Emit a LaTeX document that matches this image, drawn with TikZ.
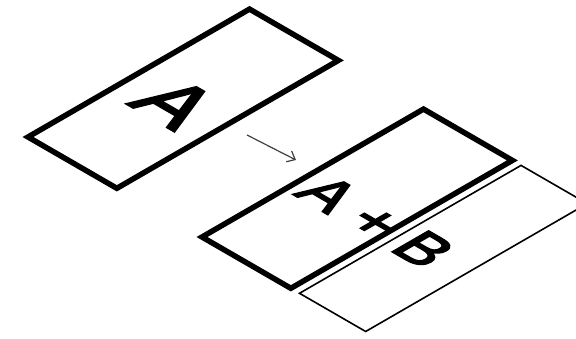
\documentclass[tikz,border=0pt]{standalone}
\usepackage{fontspec}
\setsansfont{Liberation Sans}
\newfontfamily\sheetfont[FakeBold=3]{Liberation Sans}
\usetikzlibrary{arrows.meta}

\begin{document}
\begin{tikzpicture}[x=1pt, y=1pt, >={Straight Barb[length=7pt, width=12pt]},
    isoplane/.style={cm={0.866,-0.5,0.866,0.5,(0,0)}},
    letter/.style={transform shape, inner sep=0pt, anchor=base}]
    \useasboundingbox (0,0) rectangle (576,338);
    \clip (0,0) rectangle (576,338);

    % Sheet A
    \begin{scope}[shift={(28,201)}, isoplane]
        \draw[line width=5.5pt] (0,0) rectangle (102.6,255.8);
        \node[letter, font=\sheetfont\fontsize{83}{83}\selectfont] (labelA) at (51.3,90) {A};
    \end{scope}

    % Arrow
    \coordinate (arrowtail) at (247,203);
    \coordinate (arrowtip) at (296,178);
    \draw[->, line width=1.2pt, black!75] (arrowtail) -- (arrowtip);

    % Sheets A and B
    \begin{scope}[shift={(202,101)}, isoplane]
        \draw[line width=5.5pt] (0,0) rectangle (102.6,255.8);
        \draw[line width=1.6pt] (112.6,0) rectangle (189,255.8);
        \node[letter, font=\sheetfont\fontsize{61}{61}\selectfont] (labelAB) at (85,95) {A + B};
    \end{scope}
\end{tikzpicture}
\end{document}
